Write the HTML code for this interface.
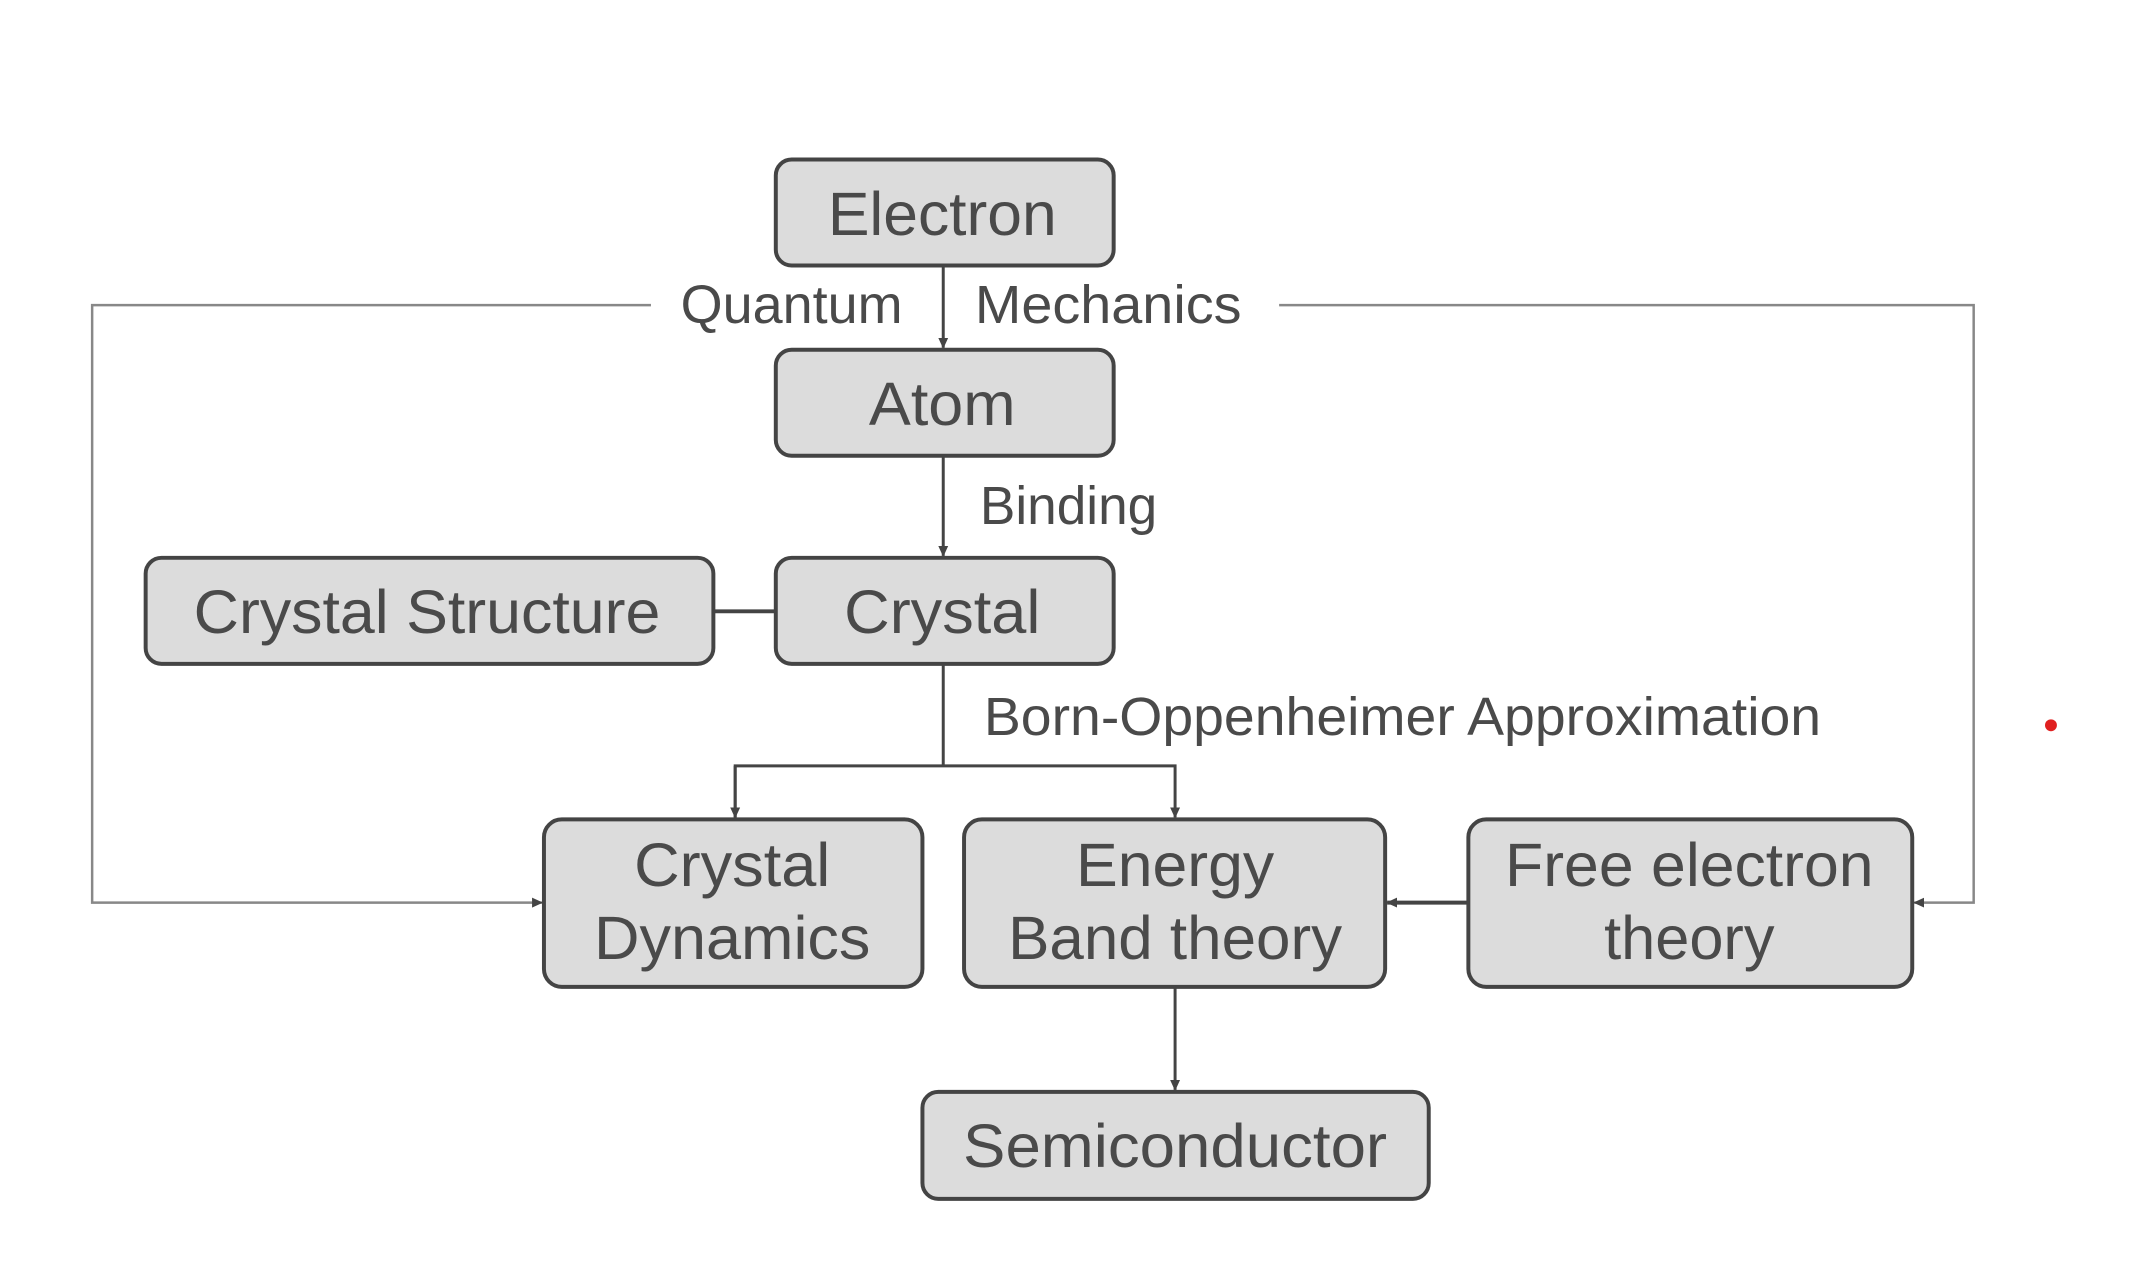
<!DOCTYPE html>
<html><head><meta charset="utf-8"><style>html,body{margin:0;padding:0;background:#fff}svg{display:block}</style></head>
<body>
<svg width="2132" height="1262" viewBox="0 0 2132 1262" xmlns="http://www.w3.org/2000/svg" font-family="Liberation Sans, Arial, sans-serif">
<defs>
<marker id="a" markerWidth="12" markerHeight="12" refX="10" refY="6" orient="auto" markerUnits="userSpaceOnUse">
<path d="M0,1 L11,6 L0,11 Z" fill="#444"/></marker>
</defs>
<rect width="2132" height="1262" fill="#fff"/>
<g transform="scale(0.9908)">
<g fill="none" stroke="#888" stroke-width="2.5">
<polyline points="657,308 93,308 93,911 547,911" marker-end="url(#a)"/>
<polyline points="1291,308 1992,308 1992,911 1932,911" marker-end="url(#a)"/>
</g>
<g fill="none" stroke="#444" stroke-width="3">
<line x1="952" y1="268" x2="952" y2="351" marker-end="url(#a)"/>
<line x1="952" y1="460" x2="952" y2="561" marker-end="url(#a)"/>
<line x1="720" y1="617" x2="783" y2="617" stroke-width="4"/>
<line x1="952" y1="670" x2="952" y2="773"/>
<polyline points="742,825 742,773 1186,773 1186,825" marker-end="url(#a)"/>
<line x1="742" y1="773" x2="742" y2="825" marker-end="url(#a)"/>
<line x1="1186" y1="996" x2="1186" y2="1100" marker-end="url(#a)"/>
<line x1="1482" y1="911" x2="1400" y2="911" stroke-width="4" marker-end="url(#a)"/>
</g>
<g fill="#dcdcdc" stroke="#444" stroke-width="4">
<rect x="783" y="161" width="341" height="107" rx="16"/>
<rect x="783" y="353" width="341" height="107" rx="16"/>
<rect x="783" y="563" width="341" height="107" rx="16"/>
<rect x="147" y="563" width="573" height="107" rx="16"/>
<rect x="549" y="827" width="382" height="169" rx="18"/>
<rect x="973" y="827" width="425" height="169" rx="18"/>
<rect x="1482" y="827" width="448" height="169" rx="18"/>
<rect x="931" y="1102" width="511" height="108" rx="16"/>
</g>
<g fill="#4a4a4a" font-size="62" text-anchor="middle">
<text x="951" y="237" textLength="231" lengthAdjust="spacingAndGlyphs">Electron</text>
<text x="951" y="429" textLength="148" lengthAdjust="spacingAndGlyphs">Atom</text>
<text x="951" y="639" textLength="198" lengthAdjust="spacingAndGlyphs">Crystal</text>
<text x="431" y="639" textLength="471" lengthAdjust="spacingAndGlyphs">Crystal Structure</text>
<text x="739" y="894" textLength="198" lengthAdjust="spacingAndGlyphs">Crystal</text>
<text x="739" y="968" textLength="279" lengthAdjust="spacingAndGlyphs">Dynamics</text>
<text x="1186" y="894" textLength="200" lengthAdjust="spacingAndGlyphs">Energy</text>
<text x="1186" y="968" textLength="337" lengthAdjust="spacingAndGlyphs">Band theory</text>
<text x="1705" y="894" textLength="372" lengthAdjust="spacingAndGlyphs">Free electron</text>
<text x="1705" y="968" textLength="172" lengthAdjust="spacingAndGlyphs">theory</text>
<text x="1186" y="1178" textLength="428" lengthAdjust="spacingAndGlyphs">Semiconductor</text>
</g>
<g fill="#4a4a4a" font-size="54">
<text x="687" y="326" textLength="224" lengthAdjust="spacingAndGlyphs">Quantum</text>
<text x="984" y="326" textLength="269" lengthAdjust="spacingAndGlyphs">Mechanics</text>
<text x="989" y="529" textLength="179" lengthAdjust="spacingAndGlyphs">Binding</text>
<text x="993" y="742" textLength="845" lengthAdjust="spacingAndGlyphs">Born-Oppenheimer Approximation</text>
</g>
<circle cx="2070" cy="732" r="6" fill="#e02020"/>
</g>
</svg>
</body></html>
